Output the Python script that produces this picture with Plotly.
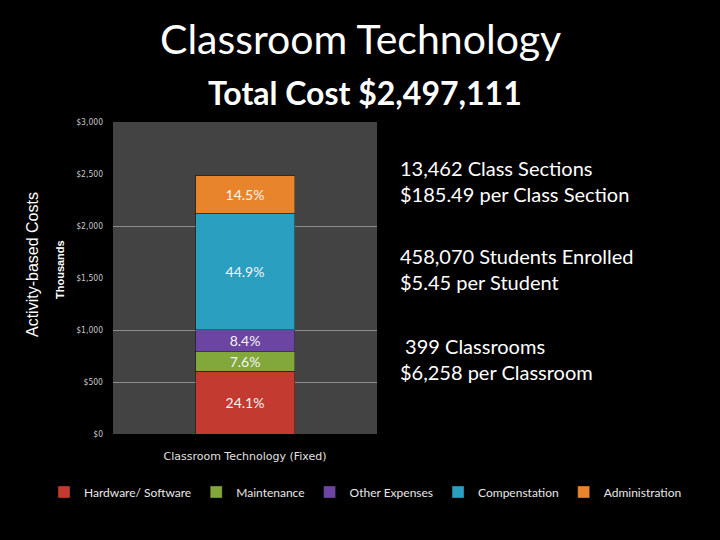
import plotly.graph_objects as go

categories = ["Classroom Technology (Fixed)"]
series_names = ["Hardware/ Software", "Maintenance", "Other Expenses", "Compenstation", "Administration"]
series_values = [602, 190, 210, 1121, 362]  # thousands of dollars
series_labels = ["24.1%", "7.6%", "8.4%", "44.9%", "14.5%"]
series_colors = ["#C23A30", "#82A83C", "#6C45A2", "#2A9FC0", "#E8842C"]
tick_values = [0, 500, 1000, 1500, 2000, 2500, 3000]
tick_labels = ["$0", "$500", "$1,000", "$1,500", "$2,000", "$2,500", "$3,000"]
grid_values = [500, 1000, 2000, 3000]
side_lines = [
    ["13,462 Class Sections", "$185.49 per Class Section"],
    ["458,070 Students Enrolled", "$5.45 per Student"],
    [" 399 Classrooms", "$6,258 per Classroom"],
]

W, H = 720, 540
FONT = "Lato"
fig = go.Figure()
for name, val, lab, col in zip(series_names, series_values, series_labels, series_colors):
    fig.add_trace(go.Bar(
        x=categories, y=[val], name=name, text=[lab],
        textposition="inside", insidetextanchor="middle", textangle=0,
        constraintext="none",
        textfont=dict(color="#f4f4f4", size=14, family=FONT),
        marker=dict(color=col, line=dict(color="rgba(0,0,0,0.35)", width=1)),
        hoverinfo="skip",
    ))

def px_x(x):
    return x / W

def px_y(y):
    return 1 - y / H

fig.update_layout(
    width=W, height=H,
    paper_bgcolor="black", plot_bgcolor="#434343",
    barmode="stack", bargap=0.625,
    margin=dict(l=0, r=0, t=0, b=0, autoexpand=False),
    showlegend=True,
    legend=dict(orientation="h", x=px_x(44), xanchor="left", y=px_y(492), yanchor="middle",
                traceorder="normal", font=dict(color="#e8e8e8", size=12, family=FONT),
                itemwidth=30, bgcolor="rgba(0,0,0,0)"),
    font=dict(family=FONT, color="white"),
)
fig.update_yaxes(domain=[px_y(434), px_y(122)], range=[0, 3000],
                 tickvals=tick_values, ticktext=tick_labels,
                 tickfont=dict(size=8.5, color="#c8c8c8", family="DejaVu Sans Condensed"),
                 showgrid=False, zeroline=False, showline=False, ticks="", ticklabelstandoff=9,
                 minor=dict(tickmode="array", tickvals=grid_values, showgrid=True,
                            gridcolor="#8c8c8c", gridwidth=1, ticks=""))
fig.update_xaxes(domain=[px_x(113), px_x(377)],
                 tickfont=dict(size=11, color="#e0e0e0", family="DejaVu Sans"),
                 showgrid=False, showline=False, ticks="", ticklabelstandoff=14)

annotations = [
    dict(text="Classroom Technology", x=px_x(360), y=px_y(38),
         font=dict(size=41, color="white", family=FONT)),
    dict(text="<b>Total Cost $2,497,111</b>", x=px_x(365), y=px_y(92),
         font=dict(size=32, color="white", family=FONT)),
    dict(text="Activity-based Costs", x=px_x(32), y=px_y(265), textangle=-90,
         font=dict(size=16, color="white", family="Liberation Sans")),
    dict(text="<b>Thousands</b>", x=px_x(60), y=px_y(270), textangle=-90,
         font=dict(size=11, color="white", family="Liberation Sans")),
]
for a in annotations:
    a.update(xref="paper", yref="paper", showarrow=False, xanchor="center", yanchor="middle")
block_y = [180.5, 268.5, 358.5]
for (l1, l2), yc in zip(side_lines, block_y):
    annotations.append(dict(text=l1 + "<br>" + l2, x=px_x(398), y=px_y(yc), xref="paper", yref="paper",
                            align="left", xanchor="left", yanchor="middle", showarrow=False,
                            font=dict(size=20, color="white", family=FONT)))
fig.update_layout(annotations=annotations)

fig.write_html("out.html", config={"displayModeBar": False},
               post_script="document.body.style.margin='0';document.body.style.background='black';")
